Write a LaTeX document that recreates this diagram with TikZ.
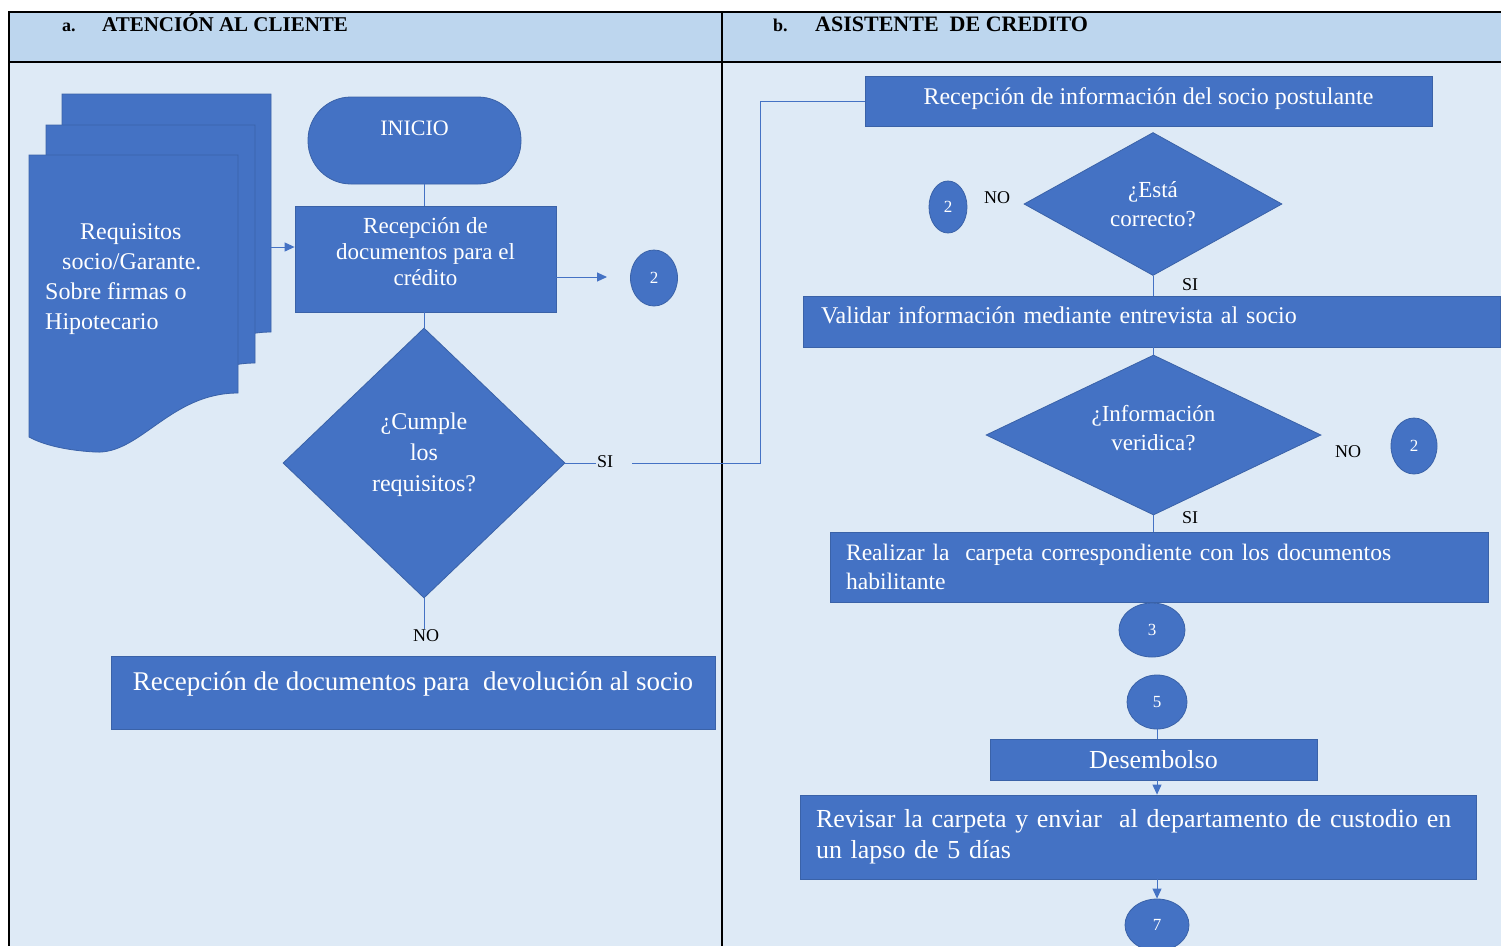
\documentclass[tikz,border=0pt]{standalone}
\usepackage{fontspec}
\setmainfont{Liberation Serif}
\usetikzlibrary{shapes.geometric,arrows.meta}
\definecolor{boxblue}{HTML}{4472C4}
\definecolor{boxedge}{HTML}{3A62A8}
\definecolor{lanebg}{HTML}{DEEAF6}
\definecolor{headbg}{HTML}{BDD6EE}
\newcommand\fsz[2]{\fontsize{#1}{#2}\selectfont}
\begin{document}
\begin{tikzpicture}[x=1pt,y=-1pt,
  box/.style={draw=boxedge,fill=boxblue,line width=0.8pt,text=white,inner sep=0pt},
  dec/.style={box,diamond},
  conn/.style={ellipse,draw=boxedge,fill=boxblue,line width=0.8pt,text=white,inner sep=0pt,font=\fsz{17}{20}},
  lbl/.style={text=black,inner sep=1pt,font=\fsz{18}{20}},
  head/.style={anchor=base west,inner sep=0pt,font=\bfseries\fsz{21}{24}},
  flow/.style={draw=boxblue,line width=1pt},
  arr/.style={flow,-{Triangle[length=10pt,width=9pt]}},
  docpage/.style={draw=boxedge,fill=boxblue,line width=0.8pt},
]
\useasboundingbox (0,0) rectangle (1501,946);
% swimlane frame
\fill[white] (0,0) rectangle (1501,946);
\fill[headbg] (9,12) rectangle (1501,62);
\fill[lanebg] (9,62) rectangle (1501,946);
\draw[line width=1.5pt] (1501,12) -- (9,12) -- (9,946);
\draw[line width=1.5pt] (9,62) -- (1501,62);
\draw[line width=1.5pt] (722,12) -- (722,946);
\node[head,font=\bfseries\fsz{18}{22}] (ha) at (62,31) {a.};
\node[head] (hat) at (102,31) {ATENCIÓN AL CLIENTE};
\node[head,font=\bfseries\fsz{18}{22}] (hb) at (773,31) {b.};
\node[head,font=\bfseries\fsz{22}{24}] (hbt) at (815,31) {ASISTENTE\ \ DE CREDITO};

% stacked documents
\foreach \sx/\sy in {33/-61,17/-30,0/0}{
  \filldraw[docpage,shift={(\sx,\sy)}] (29,155) -- (238,155) -- (238,393)
    .. controls (170,393) and (140,455) .. (95,452)
    .. controls (60,450) and (40,443) .. (29,437) -- cycle;
}
\node[anchor=north west,inner sep=0pt,text=white,align=left,font=\fsz{24}{30}] (reqs) at (45,223)
  {\hspace*{35pt}Requisitos\\\hspace*{17pt}socio/Garante.\\Sobre firmas o\\Hipotecario};
\coordinate (docout) at (271,247);

% left lane
\node[box,rectangle,rounded corners=43pt,minimum width=213pt,minimum height=87pt,
      text height=15pt,text depth=26pt,font=\fsz{22}{26}] (ini) at (414.5,140.5) {INICIO};
\node[box,minimum width=261pt,minimum height=106pt,align=center,text height=70pt,text depth=18pt,
      font=\fsz{23}{26}] (rd) at (425.5,259)
  {Recepción de\\documentos para el\\crédito};
\node[conn,minimum width=47pt,minimum height=56pt] (c2a) at (654,278) {2};
\node[dec,minimum width=282pt,minimum height=270pt,align=center,text height=80pt,text depth=24pt,
      font=\fsz{24}{31}] (d1) at (424,463)
  {¿Cumple\\los\\requisitos?};
\node[lbl] (si1) at (605,462) {SI};
\node[lbl] (no1) at (426,636) {NO};
\node[box,minimum width=604pt,minimum height=73pt,text height=20pt,text depth=25pt,font=\fsz{27}{30}] (rdv) at (413,692.5)
  {Recepción de documentos para\ \ devolución al socio};
\coordinate (a2) at (607,277);
\coordinate (k0) at (632,463);
\coordinate (k1) at (760,463);

% right lane
\node[box,minimum width=567pt,minimum height=50pt,text height=18pt,text depth=12pt,font=\fsz{24}{28}] (r1) at (1148.5,101)
  {Recepción de información del socio postulante};
\node[dec,minimum width=258pt,minimum height=143pt,shape aspect=1.8,align=center,font=\fsz{23}{29}] (d2) at (1153,204)
  {¿Está\\correcto?};
\node[conn,minimum width=38pt,minimum height=52pt] (c2b) at (948,207) {2};
\node[lbl] (no2) at (997,198) {NO};
\node[lbl] (si2) at (1190,285) {SI};
\node[box,minimum width=697pt,minimum height=51pt,text width=661pt,align=left,text height=18pt,text depth=14pt,
      font=\fsz{24}{28}] (v1) at (1151.5,321.5)
  {Validar información mediante entrevista al socio};
\node[dec,minimum width=335pt,minimum height=160pt,shape aspect=2,align=center,text height=50pt,text depth=19pt,
      font=\fsz{23}{29}] (d3) at (1153.5,435)
  {¿Información\\veridica?};
\node[lbl] (no3) at (1348,452) {NO};
\node[conn,minimum width=46pt,minimum height=56pt] (c2c) at (1414,446) {2};
\node[lbl] (si3) at (1190,518) {SI};
\node[box,minimum width=658pt,minimum height=70pt,text width=626pt,align=left,font=\fsz{23.6}{29}] (re) at (1159,567)
  {Realizar la\ \ carpeta correspondiente con los documentos\\habilitante};
\node[conn,minimum width=66pt,minimum height=54pt] (c3) at (1152,630) {3};
\node[conn,minimum width=60pt,minimum height=54pt] (c5) at (1157,702) {5};
\node[box,minimum width=327pt,minimum height=41pt,font=\fsz{26}{30}] (des) at (1153.5,759.5) {Desembolso};
\node[box,minimum width=676pt,minimum height=84pt,text width=644pt,align=left,font=\fsz{26}{31}] (rev) at (1138,837)
  {Revisar la carpeta y enviar\ \ al departamento de custodio en\\un lapso de 5 días};
\node[conn,minimum width=64pt,minimum height=52pt] (c7) at (1157,925) {7};

% connectors
\draw[arr] (docout) -- (docout -| rd.west);
\draw[flow] (ini.south -| d1.north) -- (rd.north -| d1.north);
\draw[arr] (rd.east |- a2) -- (a2);
\draw[flow] (rd.south -| d1.north) -- (d1.north);
\draw[flow] (d1.east) -- (d1.east -| si1.west);
\draw[flow] (k0) -- (k1) |- (r1.west);
\draw[flow] (d1.south) -- (d1.south |- no1.north);
\draw[flow] (d2.south) -- (d2.south |- v1.north);
\draw[flow] (v1.south -| d3.north) -- (d3.north);
\draw[flow] (d3.south) -- (d3.south |- re.north);
\draw[flow] (c5.south) -- (c5.south |- des.north);
\draw[arr] (des.south -| c5.south) -- (rev.north -| c5.south);
\draw[arr] (rev.south -| c7.north) -- (c7.north);
\end{tikzpicture}
\end{document}
